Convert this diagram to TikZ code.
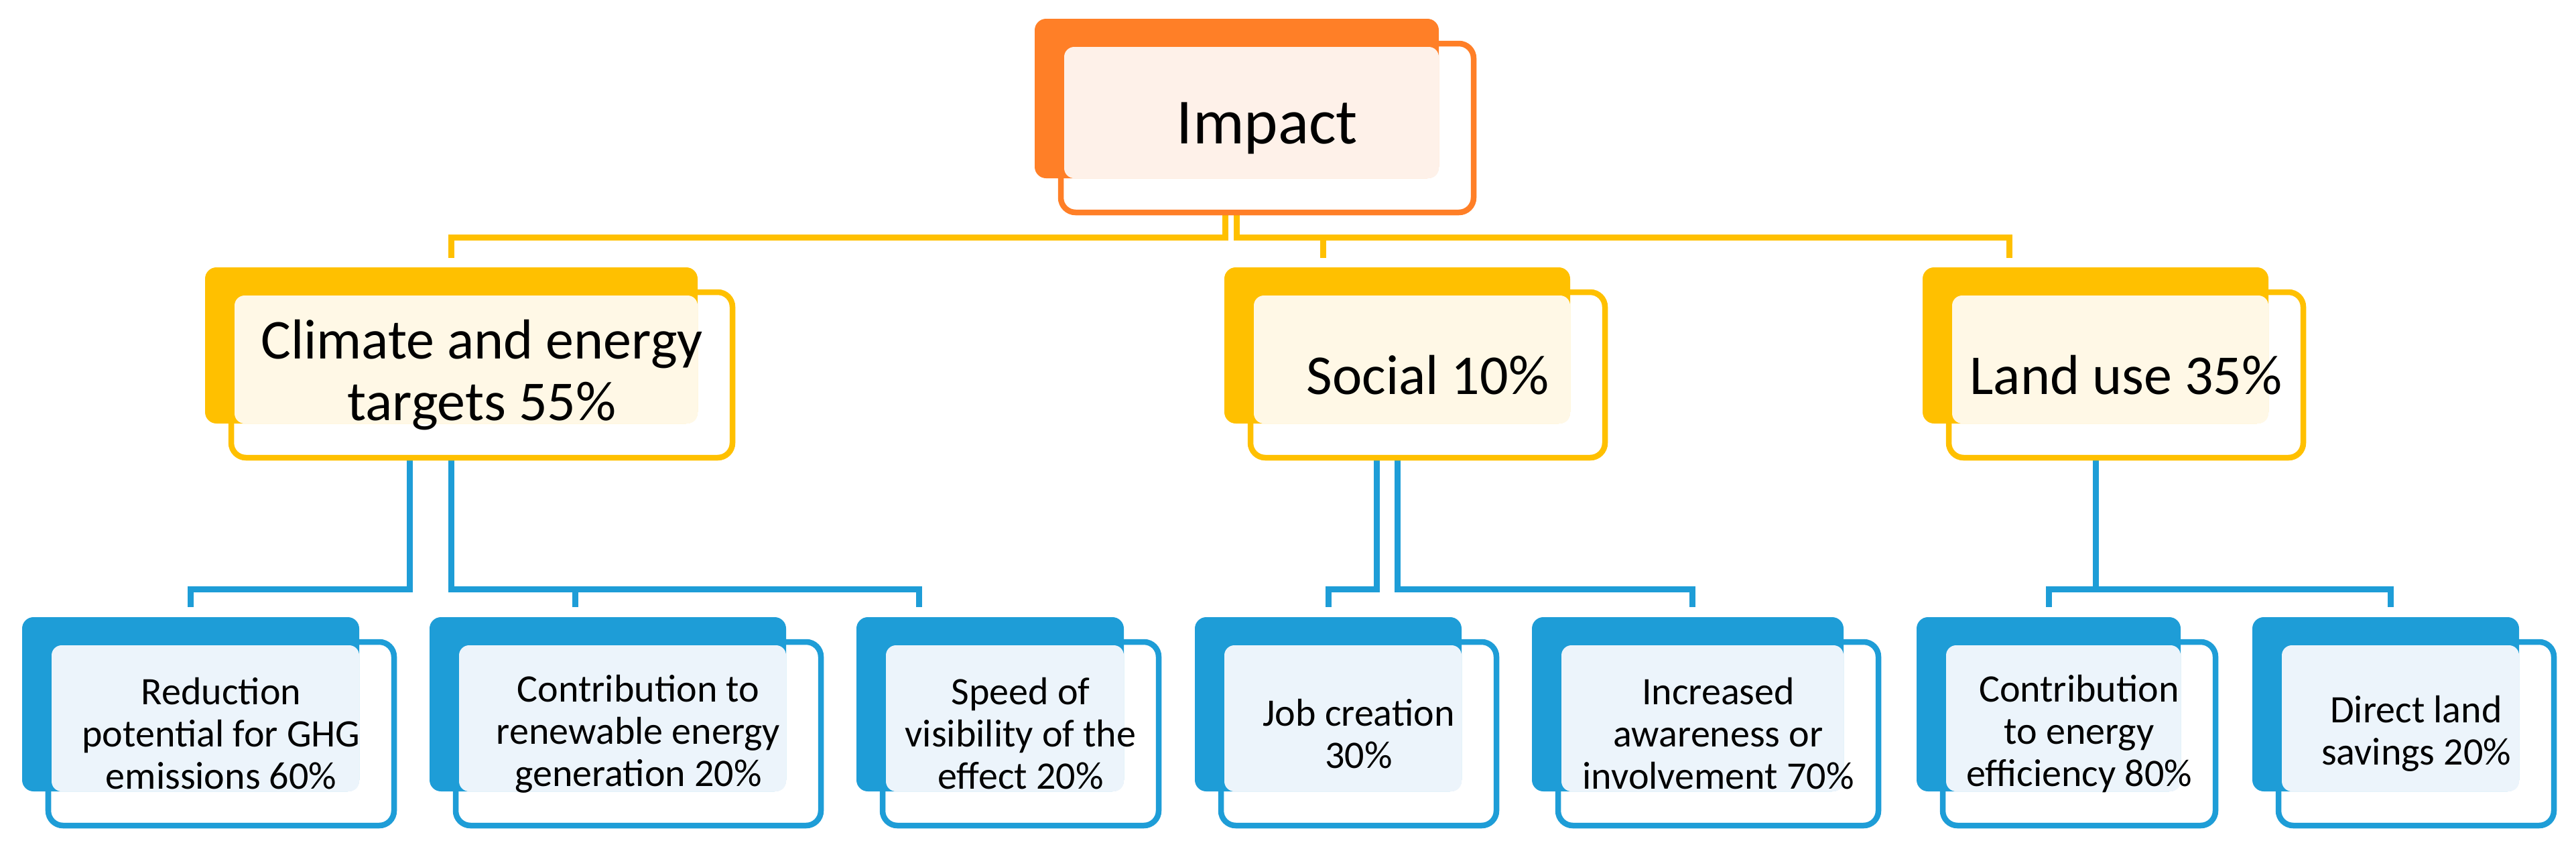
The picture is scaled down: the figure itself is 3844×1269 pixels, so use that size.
\documentclass[tikz,border=0pt]{standalone}
\usepackage{fontspec}
\setmainfont{Carlito}
\usepackage{tikz}
\usetikzlibrary{fit,calc,backgrounds}
\definecolor{orangeC}{RGB}{255,127,39}
\definecolor{goldC}{RGB}{255,192,0}
\definecolor{blueC}{RGB}{30,157,215}
\definecolor{orangeL}{RGB}{254,241,233}
\definecolor{goldL}{RGB}{255,248,230}
\definecolor{blueL}{RGB}{236,244,251}
\tikzset{
  edgebox/.style={draw=#1C, fill=white, line width=0.085cm, rounded corners=0.22cm, inner sep=0pt},
  backbox/.style={fill=#1C, rounded corners=0.17cm, inner sep=0pt},
  lightbox/.style={fill=#1L, rounded corners=0.15cm},
  lvlone/.style={align=center, font=\fontsize{27.3}{30}\selectfont},
  lvltwo/.style={align=center, font=\fontsize{23.9}{25.9}\selectfont},
  lvlthree/.style={align=center, font=\fontsize{16.5}{17.9}\selectfont},
  yline/.style={draw=goldC, line width=0.09cm},
  bline/.style={draw=blueC, line width=0.09cm}
}
\newcommand{\card}[8]{%
  \node[edgebox=#2, fit={(#3+39,#4+37) (#5+52,#6+51)}] (#1o) {};
  \node[backbox=#2, fit={(#3,#4) (#5,#6)}] (#1) {};
  \fill[lightbox=#2] (#3+44,#4+42) rectangle (#5,#6);
  \node[#7] at (#1o) {#8};
}

\begin{document}
\begin{tikzpicture}[x=0.01cm, y=-0.01cm]
\useasboundingbox (0,0) rectangle (3844,1269);

\card{imp}{orange}{1544}{28}{2147}{266}{lvlone}{Impact}

\card{clim}{gold}{306}{399}{1041}{632}{lvltwo}{Climate and energy\\targets 55\%}
\card{soc}{gold}{1827}{399}{2343}{632}{lvltwo}{Social 10\%}
\card{land}{gold}{2869}{399}{3385}{632}{lvltwo}{Land use 35\%}

\card{red}{blue}{33}{921}{536}{1181}{lvlthree}{Reduction\\potential for GHG\\emissions 60\%}
\card{ren}{blue}{641}{921}{1173}{1181}{lvlthree}{Contribution to\\renewable energy\\generation 20\%}
\card{spd}{blue}{1278}{921}{1677}{1181}{lvlthree}{Speed of\\visibility of the\\effect 20\%}
\card{job}{blue}{1783}{921}{2181}{1181}{lvlthree}{Job creation\\30\%}
\card{inc}{blue}{2286}{921}{2751}{1181}{lvlthree}{Increased\\awareness or\\involvement 70\%}
\card{eff}{blue}{2860}{921}{3254}{1181}{lvlthree}{Contribution\\to energy\\efficiency 80\%}
\card{dir}{blue}{3361}{921}{3759}{1181}{lvlthree}{Direct land\\savings 20\%}

\begin{pgfonlayer}{background}
\draw[yline] ($(imp.south)+(-17,0)$) |- ($(clim.north)+(0,-44)$) -- ($(clim.north)+(0,-13)$);
\draw[yline] (imp.south) |- ($(soc.north)+(-111,-44)$) -- ($(soc.north)+(-111,-13)$);
\draw[yline] (imp.south) |- ($(land.north)+(-129,-44)$) -- ($(land.north)+(-129,-13)$);

\draw[bline] ($(clim.south)+(-62,0)$) |- ($(red.north)+(0,-41)$) -- ($(red.north)+(0,-14)$);
\draw[bline] (clim.south) |- ($(ren.north)+(-49,-41)$) -- ($(ren.north)+(-49,-14)$);
\draw[bline] (clim.south) |- ($(spd.north)+(-106,-41)$) -- ($(spd.north)+(-106,-14)$);
\draw[bline] ($(soc.south)+(-31,0)$) |- ($(job.north)+(0,-41)$) -- ($(job.north)+(0,-14)$);
\draw[bline] (soc.south) |- ($(inc.north)+(7,-41)$) -- ($(inc.north)+(7,-14)$);
\draw[bline] (land.south) |- ($(eff.north)+(0,-41)$) -- ($(eff.north)+(0,-14)$);
\draw[bline] (land.south) |- ($(dir.north)+(7,-41)$) -- ($(dir.north)+(7,-14)$);
\end{pgfonlayer}
\end{tikzpicture}
\end{document}
